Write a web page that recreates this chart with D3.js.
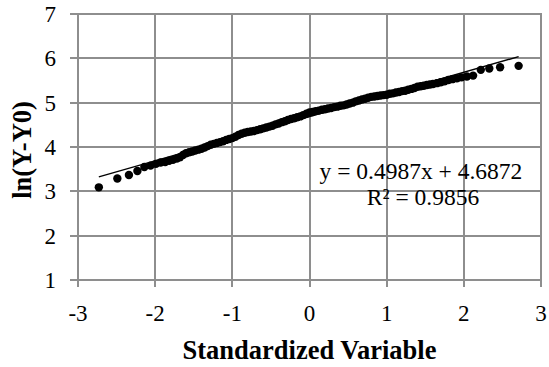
<!DOCTYPE html>
<html>
<head>
<meta charset="utf-8">
<script src="https://cdn.jsdelivr.net/npm/d3@7"></script>
<style>
  body { margin: 0; background: #fff; }
  svg text { font-family: "Liberation Serif", "Times New Roman", serif; fill: #000; }
  .grid line { stroke: #8e8e8e; stroke-width: 2; shape-rendering: crispEdges; }
  .tick-label { font-size: 23px; }
  .eq-label { font-size: 23.5px; }
  .axis-title { font-size: 26.5px; font-weight: bold; }
</style>
</head>
<body>
<div id="chart"></div>
<script>
// standardized variable (normal scores) and ln(Y-Y0)
var zScores = [-2.73, -2.49, -2.34, -2.23, -2.14, -2.06, -1.99, -1.93, -1.87, -1.82,
  -1.77, -1.72, -1.68, -1.64, -1.60, -1.56, -1.52, -1.48, -1.44, -1.40,
  -1.36, -1.32, -1.28, -1.24, -1.20, -1.16, -1.12, -1.08, -1.04, -1.00,
  -0.96, -0.92, -0.88, -0.84, -0.80, -0.76, -0.72, -0.68, -0.64, -0.60,
  -0.56, -0.52, -0.48, -0.44, -0.40, -0.36, -0.32, -0.28, -0.24, -0.20,
  -0.16, -0.12, -0.08, -0.04, 0.00, 0.04, 0.08, 0.12, 0.16, 0.20,
  0.24, 0.28, 0.32, 0.36, 0.40, 0.44, 0.48, 0.52, 0.56, 0.60,
  0.64, 0.68, 0.72, 0.76, 0.80, 0.84, 0.88, 0.92, 0.96, 1.00,
  1.04, 1.08, 1.12, 1.16, 1.20, 1.24, 1.28, 1.32, 1.36, 1.40,
  1.44, 1.48, 1.52, 1.56, 1.60, 1.65, 1.70, 1.75, 1.80, 1.85,
  1.91, 1.97, 2.04, 2.12, 2.22, 2.33, 2.47, 2.71];
var lnValues = [3.09, 3.29, 3.37, 3.46, 3.55, 3.58, 3.62, 3.65, 3.66, 3.69,
  3.71, 3.74, 3.77, 3.82, 3.86, 3.88, 3.90, 3.92, 3.94, 3.96,
  3.99, 4.02, 4.05, 4.07, 4.09, 4.11, 4.13, 4.16, 4.18, 4.20,
  4.23, 4.27, 4.30, 4.32, 4.34, 4.35, 4.36, 4.38, 4.40, 4.42,
  4.44, 4.46, 4.48, 4.51, 4.53, 4.56, 4.58, 4.61, 4.63, 4.65,
  4.67, 4.69, 4.72, 4.75, 4.78, 4.79, 4.81, 4.82, 4.84, 4.85,
  4.87, 4.88, 4.90, 4.91, 4.93, 4.94, 4.96, 4.98, 5.00, 5.03,
  5.05, 5.07, 5.09, 5.11, 5.13, 5.14, 5.15, 5.16, 5.17, 5.18,
  5.20, 5.21, 5.23, 5.24, 5.26, 5.27, 5.29, 5.31, 5.33, 5.36,
  5.37, 5.38, 5.40, 5.41, 5.42, 5.44, 5.46, 5.48, 5.51, 5.53,
  5.55, 5.57, 5.59, 5.61, 5.74, 5.77, 5.80, 5.83];

var xTicks = [-3, -2, -1, 0, 1, 2, 3];
var yTicks = [1, 2, 3, 4, 5, 6, 7];

// linear trendline shown in the chart
var slope = 0.4987, intercept = 4.6872, rSquared = 0.9856;

var width = 549, height = 367;
var margin = {top: 14, right: 8, bottom: 87, left: 78};

var svg = d3.select("#chart").append("svg")
    .attr("width", width)
    .attr("height", height);

var x = d3.scaleLinear().domain([-3, 3]).range([margin.left, width - margin.right]);
var y = d3.scaleLinear().domain([1, 7]).range([height - margin.bottom, margin.top]);

// gridlines + outside ticks (snapped to whole pixels)
var grid = svg.append("g").attr("class", "grid");
grid.selectAll(".gx").data(xTicks).enter().append("line")
    .attr("x1", d => Math.round(x(d))).attr("x2", d => Math.round(x(d)))
    .attr("y1", y(7)).attr("y2", y(1) + 7);
grid.selectAll(".gy").data(yTicks).enter().append("line")
    .attr("x1", x(-3) - 8).attr("x2", x(3) + 1)
    .attr("y1", d => Math.round(y(d))).attr("y2", d => Math.round(y(d)));

// tick labels
svg.selectAll(".xl").data(xTicks).enter().append("text")
    .attr("class", "tick-label")
    .attr("x", d => x(d))
    .attr("y", y(1) + 41)
    .attr("text-anchor", "middle")
    .text(d => d);
svg.selectAll(".yl").data(yTicks).enter().append("text")
    .attr("class", "tick-label")
    .attr("x", x(-3) - 22)
    .attr("y", d => y(d) + 8)
    .attr("text-anchor", "end")
    .text(d => d);

// axis titles
svg.append("text")
    .attr("class", "axis-title")
    .attr("x", (x(-3) + x(3)) / 2)
    .attr("y", 359)
    .attr("text-anchor", "middle")
    .text("Standardized Variable");
svg.append("text")
    .attr("class", "axis-title")
    .attr("transform", "translate(31," + (y(4) + 3) + ") rotate(-90)")
    .attr("text-anchor", "middle")
    .text("ln(Y-Y0)");

// points
var points = zScores.map((z, i) => ({z: z, v: lnValues[i]}));
svg.append("g").selectAll("circle").data(points).enter().append("circle")
    .attr("cx", d => x(d.z))
    .attr("cy", d => y(d.v))
    .attr("r", 4.2)
    .attr("fill", "#000");

// trendline over the data extent
var ext = d3.extent(zScores);
svg.append("line")
    .attr("x1", x(ext[0])).attr("y1", y(slope * ext[0] + intercept))
    .attr("x2", x(ext[1])).attr("y2", y(slope * ext[1] + intercept))
    .attr("stroke", "#000")
    .attr("stroke-width", 1.4);

// equation label
var eq = svg.append("text")
    .attr("class", "eq-label")
    .attr("text-anchor", "middle");
eq.append("tspan").attr("x", 421).attr("y", 179)
    .text("y = " + slope + "x + " + intercept);
eq.append("tspan").attr("x", 423).attr("y", 205)
    .text("R² = " + rSquared);
</script>
</body>
</html>
